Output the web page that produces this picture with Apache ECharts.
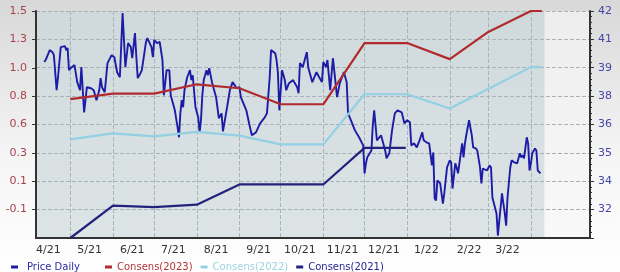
<!DOCTYPE html>
<html><head><meta charset="utf-8">
<script src="https://cdn.jsdelivr.net/npm/echarts@6/dist/echarts.min.js"></script>
<style>html,body{margin:0;padding:0;}#c{width:620px;height:272px;}</style>
</head><body><div id="c"></div>
<script>
// ---- data ----
const priceDates = ['2021-04-12','2021-04-13','2021-04-16','2021-04-18','2021-04-19','2021-04-21','2021-04-22','2021-04-24','2021-04-27','2021-04-28','2021-04-29','2021-04-30',
'2021-05-02','2021-05-04','2021-05-06','2021-05-08','2021-05-09','2021-05-10','2021-05-11','2021-05-12','2021-05-13','2021-05-16','2021-05-18','2021-05-20','2021-05-22','2021-05-23','2021-05-24','2021-05-26','2021-05-28','2021-05-31',
'2021-06-02','2021-06-04','2021-06-06','2021-06-08','2021-06-09','2021-06-10','2021-06-12','2021-06-14','2021-06-15','2021-06-17','2021-06-18','2021-06-19','2021-06-21','2021-06-22','2021-06-25','2021-06-26','2021-06-29','2021-06-30',
'2021-07-01','2021-07-03','2021-07-05','2021-07-07','2021-07-08','2021-07-10','2021-07-12','2021-07-13','2021-07-16','2021-07-18','2021-07-19','2021-07-20','2021-07-21','2021-07-22','2021-07-23','2021-07-25','2021-07-27','2021-07-28','2021-07-29','2021-07-31',
'2021-08-02','2021-08-03','2021-08-04','2021-08-05','2021-08-06','2021-08-07','2021-08-08','2021-08-09','2021-08-10','2021-08-12','2021-08-15','2021-08-17','2021-08-19','2021-08-20','2021-08-23','2021-08-25','2021-08-27','2021-08-30',
'2021-09-01','2021-09-02','2021-09-06','2021-09-08','2021-09-10','2021-09-13','2021-09-16','2021-09-19','2021-09-21','2021-09-23','2021-09-24','2021-09-27','2021-09-28','2021-09-29','2021-09-30',
'2021-10-02','2021-10-04','2021-10-05','2021-10-07','2021-10-10','2021-10-13','2021-10-14','2021-10-15','2021-10-17','2021-10-20','2021-10-21','2021-10-22','2021-10-24','2021-10-27','2021-10-29','2021-10-31',
'2021-11-01','2021-11-03','2021-11-04','2021-11-06','2021-11-08','2021-11-11','2021-11-13','2021-11-16','2021-11-18','2021-11-19','2021-11-22','2021-11-24','2021-11-27','2021-11-30',
'2021-12-01','2021-12-02','2021-12-03','2021-12-06','2021-12-07','2021-12-08','2021-12-10','2021-12-13','2021-12-16','2021-12-17','2021-12-19','2021-12-21','2021-12-23','2021-12-25','2021-12-28','2021-12-30',
'2022-01-01','2022-01-03','2022-01-04','2022-01-06','2022-01-08','2022-01-10','2022-01-12','2022-01-13','2022-01-15','2022-01-17','2022-01-19','2022-01-20','2022-01-21','2022-01-22','2022-01-23','2022-01-25','2022-01-27','2022-01-28','2022-01-30',
'2022-02-01','2022-02-02','2022-02-03','2022-02-05','2022-02-06','2022-02-07','2022-02-08','2022-02-10','2022-02-11','2022-02-12','2022-02-13','2022-02-14','2022-02-15','2022-02-17','2022-02-18','2022-02-20','2022-02-21','2022-02-23','2022-02-24','2022-02-25','2022-02-28',
'2022-03-01','2022-03-02','2022-03-03','2022-03-04','2022-03-07','2022-03-08','2022-03-09','2022-03-11','2022-03-12','2022-03-13','2022-03-14','2022-03-15','2022-03-17','2022-03-18','2022-03-20','2022-03-22','2022-03-23','2022-03-24','2022-03-25','2022-03-26','2022-03-27','2022-03-29','2022-03-30','2022-03-31',
'2022-04-01','2022-04-02','2022-04-04','2022-04-05','2022-04-06','2022-04-07','2022-04-08'];
const priceValues = [39.48,39.58,40.07,39.97,39.82,38.09,38.73,40.22,40.27,40.07,40.17,39.08,
39.23,39.33,38.49,38.09,39.23,39.28,37.00,37.60,38.24,38.19,38.09,37.60,38.09,38.69,38.24,37.99,39.43,39.82,
39.72,38.98,38.73,41.90,40.57,39.23,40.42,40.22,39.67,40.91,39.72,38.69,38.93,39.08,40.47,40.66,40.22,39.72,
40.57,40.42,40.47,39.58,37.84,39.08,39.08,37.84,37.10,36.26,35.77,36.95,37.60,37.25,38.09,38.73,39.08,38.59,38.83,37.25,
36.76,36.01,36.61,37.84,38.59,38.83,39.08,38.83,39.18,38.49,37.75,36.71,36.95,36.06,37.25,38.09,38.49,38.19,
38.24,37.75,37.10,36.46,35.87,36.01,36.46,36.71,36.95,38.73,40.07,39.92,39.58,38.93,37.10,
39.08,38.59,38.09,38.44,38.59,38.24,37.94,39.43,39.23,39.97,39.23,38.98,38.49,38.98,38.73,38.49,
39.48,39.23,39.58,38.09,39.67,37.75,38.44,38.98,38.49,36.95,36.46,36.11,35.77,35.37,
33.99,34.48,34.78,35.12,36.36,37.10,35.62,35.87,35.12,34.73,34.98,36.11,36.95,37.10,37.00,36.46,
36.61,36.51,35.37,35.47,35.27,35.62,36.01,35.62,35.52,35.47,34.38,35.02,32.75,32.65,33.64,33.49,32.50,33.00,34.28,
34.63,34.53,33.24,34.48,34.28,33.99,34.48,35.47,34.78,35.47,35.87,35.96,36.61,35.87,35.27,35.22,35.12,34.28,33.49,34.23,34.13,
34.04,34.38,34.28,32.80,32.01,30.92,31.66,33.00,32.50,32.01,31.41,32.80,34.28,34.63,34.53,34.48,34.73,34.98,34.78,34.88,34.73,35.77,35.47,34.13,
34.48,34.98,35.22,35.12,34.13,34.04,33.99];

const consDates = ['2021-05-01','2021-06-01','2021-07-01','2021-08-01','2021-09-01','2021-10-01','2021-11-01','2021-12-01','2022-01-01','2022-02-01','2022-03-01','2022-04-01','2022-04-09'];
const cons2023 = [0.785,0.83,0.83,0.906,0.874,0.744,0.744,1.24,1.24,1.11,1.33,1.5,1.5];
const cons2022 = [0.459,0.508,0.484,0.52,0.49,0.419,0.419,0.825,0.825,0.71,null,1.045,1.045];
const cons2021Dates = ['2021-05-01','2021-06-01','2021-07-01','2021-08-01','2021-09-01','2021-10-01','2021-11-01','2021-12-01','2021-12-31'];
const cons2021 = [-0.34,-0.077,-0.09,-0.07,0.094,0.094,0.094,0.39,0.39];

const epsTicks = [-0.11,0.12,0.35,0.58,0.81,1.04,1.27,1.5];
const epsTickLabels = ['-0.1','0.1','0.3','0.6','0.8','1.0','1.3','1.5'];
const seriesNames = ['Price Daily','Consens(2023)','Consens(2022)','Consens(2021)'];

// ---- axis categories (calendar days) ----
const days = [];
for (let t = Date.UTC(2021,3,6); t <= Date.UTC(2022,4,14); t += 86400000) days.push(new Date(t).toISOString().slice(0,10));
const firstDay = days[0], lastDay = days[days.length-1], shadeEnd = '2022-04-11';
const pair = (ds, vs) => ds.map((d,i) => [d, vs[i]]);

const FONT = 'DejaVu Sans';
const chart = echarts.init(document.getElementById('c'), null, {renderer:'canvas'});
chart.setOption({
  animation: false,
  backgroundColor: {type:'linear', x:0, y:0, x2:0, y2:1, colorStops:[{offset:0,color:'#d8d8d8'},{offset:0.55,color:'#f4f4f4'},{offset:1,color:'#ffffff'}]},
  grid: {left:36, right:30, top:11, bottom:34, show:false},
  legend: [
    {data:[{name:seriesNames[0], textStyle:{color:'#2c2ca0'}}], left:6, top:257, icon:'rect', itemWidth:7, itemHeight:3,
     textStyle:{fontFamily:FONT, fontSize:10, padding:[0,0,0,4]}},
    {data:[{name:seriesNames[1], textStyle:{color:'#b03535'}},{name:seriesNames[2], textStyle:{color:'#9fd2e2'}},{name:seriesNames[3], textStyle:{color:'#262690'}}],
     left:100, top:257, icon:'rect', itemWidth:7, itemHeight:3, itemGap:8, textStyle:{fontFamily:FONT, fontSize:10}}
  ],
  xAxis: {
    type:'category', data:days, boundaryGap:false, z:2,
    axisLine:{onZero:false, lineStyle:{color:'#333', width:2}},
    axisTick:{show:false},
    axisLabel:{interval:(i,v)=>v.slice(8)==='15' && v<'2022-04-01', formatter:v=>(+v.slice(5,7))+'/'+v.slice(2,4), color:'#333', fontFamily:FONT, fontSize:11, margin:7},
    splitLine:{show:true, interval:(i,v)=>v.slice(8)==='01' && v<=shadeEnd, lineStyle:{type:'dashed', color:'#a9b3b7', width:1}}
  },
  yAxis: [
    {type:'value', position:'left', min:-0.34, max:1.5, z:2,
     axisLine:{show:true, onZero:false, lineStyle:{color:'#333', width:2}},
     axisTick:{show:true, length:4, customValues:epsTicks, lineStyle:{color:'#333'}},
     axisLabel:{customValues:epsTicks, color:'#a8424e', fontFamily:FONT, fontSize:11, margin:9,
       formatter:v=>{const i=epsTicks.findIndex(t=>Math.abs(t-v)<1e-6); return i>=0?epsTickLabels[i]:'';}},
     splitLine:{show:false}},
    {type:'value', position:'right', min:30.8, max:42, interval:1.4, z:2,
     axisLine:{show:true, onZero:false, lineStyle:{color:'#333', width:2}},
     axisTick:{show:true, length:4, lineStyle:{color:'#333'}},
     minorTick:{show:true, splitNumber:5, length:2, lineStyle:{color:'#333'}},
     axisLabel:{showMinLabel:false, formatter:v=>String(Math.round(v)), color:'#4646a6', fontFamily:FONT, fontSize:11, margin:8},
     splitLine:{show:true, lineStyle:{type:'dashed', color:'#a9b3b7', width:1}}}
  ],
  series: [
    {type:'line', data:[], z:0, silent:true,
     markArea:{silent:true, z:0, data:[
       [{xAxis:firstDay, itemStyle:{color:{type:'linear', x:0, y:0, x2:0, y2:1, colorStops:[{offset:0,color:'#cfd9dc'},{offset:1,color:'#dde4e6'}]}}},{xAxis:shadeEnd}],
       [{xAxis:shadeEnd, itemStyle:{color:{type:'linear', x:0, y:0, x2:0, y2:1, colorStops:[{offset:0,color:'#ededed'},{offset:1,color:'#f9f9f9'}]}}},{xAxis:lastDay}]
     ]}},
    {name:seriesNames[0], type:'line', yAxisIndex:1, symbol:'none', z:3, data:pair(priceDates, priceValues),
     lineStyle:{color:'#1c1ca6', width:1.9}, itemStyle:{color:'#1c1ca6'}},
    {name:seriesNames[1], type:'line', yAxisIndex:0, symbol:'none', z:3, connectNulls:true, data:pair(consDates, cons2023),
     lineStyle:{color:'#b02a2e', width:2.2}, itemStyle:{color:'#b02a2e'}},
    {name:seriesNames[2], type:'line', yAxisIndex:0, symbol:'none', z:3, connectNulls:true, data:pair(consDates, cons2022),
     lineStyle:{color:'#93d0e3', width:2.2}, itemStyle:{color:'#93d0e3'}},
    {name:seriesNames[3], type:'line', yAxisIndex:0, symbol:'none', z:3, data:pair(cons2021Dates, cons2021),
     lineStyle:{color:'#23237e', width:2.2}, itemStyle:{color:'#23237e'}}
  ]
});
</script></body></html>
